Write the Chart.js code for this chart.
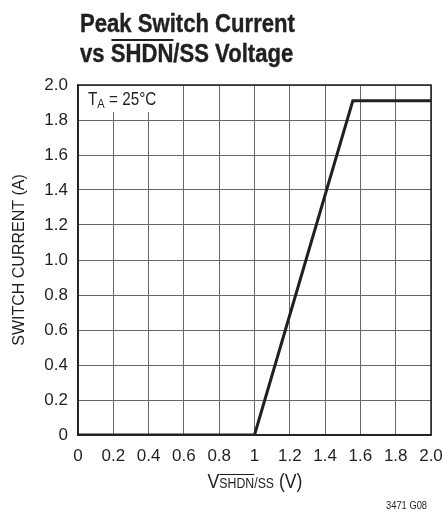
<!DOCTYPE html>
<html>
<head>
<meta charset="utf-8">
<script src="https://cdn.jsdelivr.net/npm/chart.js@4.4.1/dist/chart.umd.min.js"></script>
<style>
    body { margin: 0; background: #fff; }
    .wrap { position: relative; width: 442px; height: 519px; overflow: hidden; font-family: 'Liberation Sans', Arial, sans-serif; color: #231f20; }
    canvas { position: absolute; left: 0; top: 0; }
    .title { position: absolute; left: 80px; top: 8px; font-size: 26px; font-weight: bold; line-height: 30px; white-space: nowrap; -webkit-text-stroke: 0.4px #231f20; transform: scaleX(0.85); transform-origin: left top; }
    .title .bar { position: relative; }
    .title .bar::before { content: ''; position: absolute; left: 1px; right: 0; top: 1px; border-top: 2px solid #231f20; }
    .ovl { text-decoration: overline; text-decoration-thickness: 1px; }
    .xlabel { position: absolute; left: 0; width: 510px; top: 470px; text-align: center; font-size: 20px; white-space: nowrap; transform: scaleX(0.88); transform-origin: 255px 0; }
    .xlabel .sub { font-size: 14px; }
    .note { position: absolute; left: 79px; top: 86px; width: 86px; height: 26px; background: #fff; }
    .note span { position: absolute; left: 9px; top: 0; font-size: 18px; line-height: 26px; white-space: nowrap; transform: scaleX(0.85); transform-origin: left top; }
    .note sub { font-size: 13px; vertical-align: -3px; }
    .code { position: absolute; left: 386px; top: 499px; font-size: 11px; white-space: nowrap; transform: scaleX(0.85); transform-origin: left top; }
</style>
</head>
<body>
<div class="wrap">
    <canvas id="chart" width="442" height="519"></canvas>
    <div class="title">Peak Switch Current<br>vs <span class="bar">SHDN</span>/SS Voltage</div>
    <div class="note"><span>T<sub>A</sub> = 25°C</span></div>
    <div class="xlabel">V<span class="sub"><span class="ovl">SHDN</span>/SS</span> (V)</div>
    <div class="code">3471 G08</div>
</div>
<script>
const voltage = [0, 1.0, 1.557, 2.0];
const current = [0, 0, 1.91, 1.91];
const xTickLabels = ['0', '0.2', '0.4', '0.6', '0.8', '1', '1.2', '1.4', '1.6', '1.8', '2.0'];
const yTickLabels = ['0', '0.2', '0.4', '0.6', '0.8', '1.0', '1.2', '1.4', '1.6', '1.8', '2.0'];

const fontFamily = "'Liberation Sans', Arial, sans-serif";
const ink = '#231f20';

new Chart(document.getElementById('chart').getContext('2d'), {
    type: 'scatter',
    data: {
        datasets: [{
            data: voltage.map((v, i) => ({ x: v, y: current[i] })),
            showLine: true,
            borderColor: ink,
            borderWidth: 3,
            pointRadius: 0,
            tension: 0
        }]
    },
    options: {
        responsive: false,
        animation: false,
        layout: { padding: { top: 85, right: 11, left: 0, bottom: 0 } },
        plugins: { legend: { display: false }, tooltip: { enabled: false } },
        scales: {
            x: {
                type: 'linear',
                min: 0,
                max: 2,
                afterFit: scale => {
                    scale.height = 84;
                    scale.paddingLeft = 0;
                    scale.paddingRight = 0;
                },
                afterBuildTicks: scale => { scale.ticks = xTickLabels.map((t, i) => ({ value: i * 0.2 })); },
                ticks: {
                    padding: 11,
                    color: ink,
                    font: { family: fontFamily, size: 17 },
                    maxRotation: 0,
                    autoSkip: false,
                    callback: (v, i) => xTickLabels[i]
                },
                grid: { color: '#666', lineWidth: 1, drawTicks: false },
                border: { color: ink, width: 1.5 }
            },
            y: {
                min: 0,
                max: 2,
                afterFit: scale => {
                    scale.width = 78;
                    scale.paddingTop = 0;
                    scale.paddingBottom = 0;
                },
                afterBuildTicks: scale => { scale.ticks = yTickLabels.map((t, i) => ({ value: i * 0.2 })); },
                ticks: {
                    padding: 10,
                    color: ink,
                    font: { family: fontFamily, size: 17 },
                    autoSkip: false,
                    callback: (v, i) => yTickLabels[i]
                },
                grid: { color: '#666', lineWidth: 1, drawTicks: false },
                border: { color: ink, width: 1.5 },
                title: {
                    display: true,
                    text: 'SWITCH CURRENT (A)',
                    color: ink,
                    font: { family: fontFamily, size: 16 },
                    padding: { top: 10, bottom: 0 }
                }
            }
        }
    },
    plugins: [{
        id: 'frame',
        afterDraw(chart) {
            const { ctx, chartArea: a } = chart;
            ctx.save();
            ctx.strokeStyle = ink;
            ctx.lineWidth = 1.5;
            ctx.strokeRect(a.left, a.top, a.right - a.left, a.bottom - a.top);
            ctx.restore();
        }
    }]
});
</script>
</body>
</html>
